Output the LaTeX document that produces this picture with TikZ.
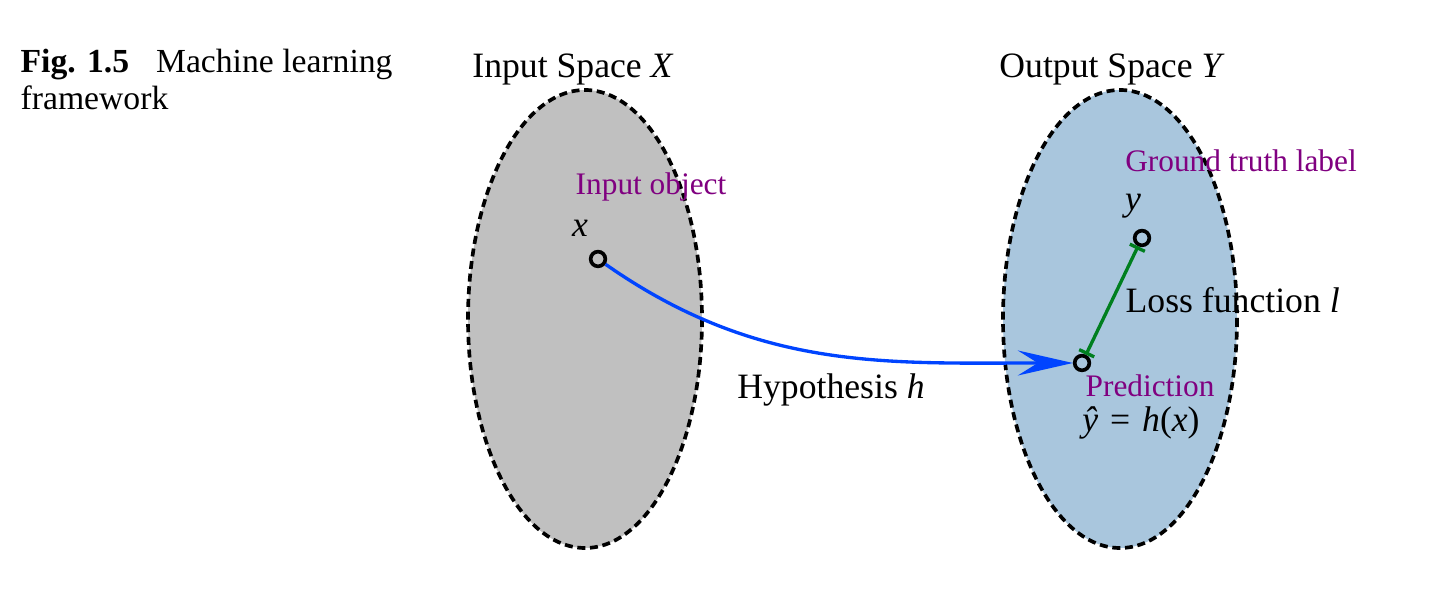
\documentclass[tikz,border=0pt]{standalone}
\usepackage{fontspec}
\setmainfont{Liberation Serif}
\usetikzlibrary{arrows.meta}
\definecolor{spacegray}{HTML}{C0C0C0}
\definecolor{spaceblue}{HTML}{A9C6DD}
\definecolor{labelpurple}{HTML}{800080}
\definecolor{lossgreen}{HTML}{007F1F}
\definecolor{hypblue}{HTML}{0044FF}
\begin{document}
\begin{tikzpicture}[x=0.3pt,y=-0.3pt,
  space/.style={draw=black,line width=1.1pt,dash pattern=on 2.4pt off 1.4pt},
  ptmark/.style={circle,draw=black,line width=1.1pt,minimum size=4.4pt,inner sep=0pt},
  maintext/.style={font=\rmfamily\fontsize{10.7}{12.8}\selectfont,inner sep=0pt},
  purpletext/.style={font=\rmfamily\fontsize{9.4}{11.3}\selectfont,text=labelpurple,inner sep=0pt},
  captext/.style={font=\rmfamily\fontsize{10.1}{12.1}\selectfont,inner sep=0pt,anchor=base west},
  hyp/.style={draw=hypblue,line width=1pt,-{Stealth[length=16.5pt,width=7.5pt,inset=6pt]}},
  loss/.style={draw=lossgreen,line width=1pt,{Bar[width=5pt,line width=1pt]}-{Bar[width=5pt,line width=1pt]}}
]
\useasboundingbox (0,0) rectangle (1440,606);
% spaces
\path[space,fill=spacegray] (585,319) ellipse [x radius=117,y radius=229];
\path[space,fill=spaceblue] (1120,319) ellipse [x radius=117,y radius=229];
% caption
\node[captext] (cap1) at (20,73) {\textbf{Fig. 1.5}\hspace{0.8em}Machine learning};
\node[captext] (cap2) at (20,110) {framework};
% titles
\node[maintext,anchor=base] (tX) at (573,78) {Input Space \textit{X}};
\node[maintext,anchor=base] (tY) at (1112,78) {Output Space \textit{Y}};
% points
\node[ptmark] (x) at (598,259) {};
\node[ptmark] (y) at (1142,238) {};
\node[ptmark] (yhat) at (1082,363) {};
% labels
\node[purpletext,anchor=base] (lin) at (651,195) {Input object};
\node[maintext,anchor=base] (lx) at (580,237) {\textit{x}};
\node[purpletext,anchor=base] (lgt) at (1241,172) {Ground truth label};
\node[maintext,anchor=base] (ly) at (1133,211) {\textit{y}};
\node[maintext,anchor=base west] (lloss) at (1125,313) {Loss function \textit{l}};
\node[purpletext,anchor=base west] (lpred) at (1085,397) {Prediction};
\node[maintext,anchor=base] (lyhat) at (1141,432) {\textit{ŷ}\,\,=\,\,\textit{h}(\textit{x})};
\node[maintext,anchor=base] (lhyp) at (831,399) {Hypothesis \textit{h}};
% connectors
\draw[hyp] (x) to[out=-35,in=180] (yhat);
\draw[loss] (yhat) -- (y);
\end{tikzpicture}
\end{document}
